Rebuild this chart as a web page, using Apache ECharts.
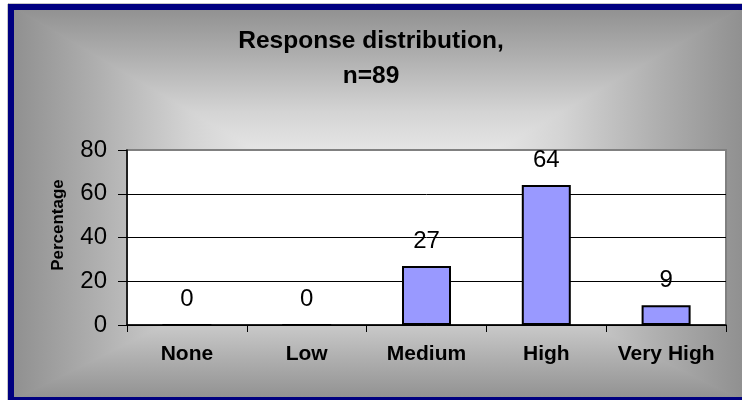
<!DOCTYPE html>
<html>
<head>
<meta charset="utf-8">
<script src="https://cdn.jsdelivr.net/npm/echarts@6/dist/echarts.min.js"></script>
<style>html,body{margin:0;padding:0;background:#fff}#c{width:742px;height:400px}</style>
</head>
<body>
<div id="c"></div>
<script>
var categories = ['None', 'Low', 'Medium', 'High', 'Very High'];
var percentages = [0, 0, 27, 64, 9];
var yTicks = [0, 20, 40, 60, 80];
var titleText = 'Response distribution,\nn=89';
var yAxisTitle = 'Percentage';

var FONT = '"Liberation Sans", Arial, sans-serif';
var chart = echarts.init(document.getElementById('c'), null, {renderer: 'canvas'});

// rectangular "from center" gradient background built from four triangles
var L = 8, T = 4, R = 748, B = 403, CX = 375, CY = 220;
var stops = [
  {offset: 0, color: '#8e8e8e'},
  {offset: 0.25, color: '#b0b0b0'},
  {offset: 0.5, color: '#d4d4d4'},
  {offset: 0.75, color: '#ececec'},
  {offset: 1, color: '#f6f6f6'}
];
function tri(points, x1, y1, x2, y2) {
  var g = new echarts.graphic.LinearGradient(x1, y1, x2, y2, stops, true);
  return {
    type: 'polygon', silent: true, z: -10,
    shape: {points: points},
    style: {fill: g, stroke: g, lineWidth: 1}
  };
}
var bg = [
  {
    type: 'rect', silent: true, z: -11,
    shape: {x: L, y: T, width: R - L, height: B - T},
    style: {fill: '#b8b8b8'}
  },
  tri([[L, T], [R, T], [CX, CY]], 0, T, 0, CY),
  tri([[L, B], [R, B], [CX, CY]], 0, B, 0, CY),
  tri([[L, T], [L, B], [CX, CY]], L, 0, CX, 0),
  tri([[R, T], [R, B], [CX, CY]], R, 0, CX, 0),
  {
    type: 'rect', silent: true, z: -9,
    shape: {x: 11, y: 7, width: 734, height: 393},
    style: {fill: null, stroke: '#000080', lineWidth: 6}
  },
  {
    type: 'text', silent: true, z: 5,
    x: 58, y: 225, rotation: Math.PI / 2,
    style: {
      text: yAxisTitle, font: 'bold 17px ' + FONT, fill: '#000',
      align: 'center', verticalAlign: 'middle'
    }
  }
];

chart.setOption({
  animation: false,
  backgroundColor: '#ffffff',
  title: {
    text: titleText,
    left: 'center',
    top: 19,
    padding: [5, 6, 5, 0],
    textStyle: {fontFamily: FONT, fontWeight: 'bold', fontSize: 24.5, lineHeight: 35, color: '#000', align: 'center'}
  },
  graphic: bg,
  grid: {
    left: 127, right: 16, top: 150, bottom: 75,
    show: true, backgroundColor: '#ffffff', borderColor: '#808080', borderWidth: 2
  },
  xAxis: {
    type: 'category',
    data: categories,
    axisLine: {lineStyle: {color: '#000', width: 1.5}},
    axisTick: {show: true, length: 7, lineStyle: {color: '#000', width: 1}},
    axisLabel: {interval: 0, fontFamily: FONT, fontWeight: 'bold', fontSize: 21, color: '#000', margin: 19}
  },
  yAxis: {
    type: 'value',
    min: yTicks[0], max: yTicks[yTicks.length - 1], interval: 20,
    axisLine: {show: true, lineStyle: {color: '#000', width: 1.5}},
    axisTick: {show: true, length: 9, lineStyle: {color: '#000', width: 1}},
    axisLabel: {fontFamily: FONT, fontSize: 24, color: '#000', margin: 20},
    splitLine: {show: true, lineStyle: {color: ['#000', '#000', '#000', '#000', '#808080'], width: 1}}
  },
  series: [{
    type: 'bar',
    data: percentages,
    barWidth: 49,
    itemStyle: {color: '#9999ff', borderColor: '#000', borderWidth: 2},
    label: {
      show: true, position: 'top', distance: 13,
      fontFamily: FONT, fontSize: 24, color: '#000'
    }
  }]
});
</script>
</body>
</html>
